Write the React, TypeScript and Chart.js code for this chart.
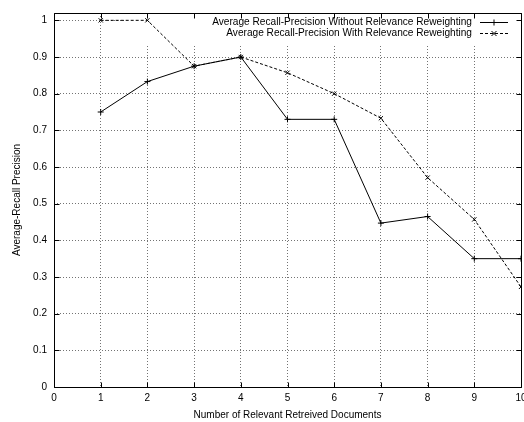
import React, { useEffect, useRef } from "react";
import { Chart, registerables } from "chart.js";

Chart.register(...registerables);

const xValues = [1, 2, 3, 4, 5, 6, 7, 8, 9, 10];
const withoutReweighting = [0.75, 0.833, 0.875, 0.9, 0.73, 0.73, 0.447, 0.465, 0.35, 0.35];
const withReweighting = [1.0, 1.0, 0.875, 0.9, 0.857, 0.8, 0.733, 0.571, 0.457, 0.273];
const xTicks = [0, 1, 2, 3, 4, 5, 6, 7, 8, 9, 10];
const yTicks = [0, 0.1, 0.2, 0.3, 0.4, 0.5, 0.6, 0.7, 0.8, 0.9, 1];
const seriesLabels = [
  "Average Recall-Precision Without Relevance Reweighting",
  "Average Recall-Precision With Relevance Reweighting",
];
const xTitle = "Number of Relevant Retreived Documents";
const yTitle = "Average-Recall Precision";

const FONT = "'Liberation Sans', Arial, Helvetica, sans-serif";

const framePlugin = {
  id: "gnuFrame",
  beforeDatasetsDraw(chart: any) {
    const { ctx, chartArea: a } = chart;
    ctx.save();
    ctx.fillStyle = "#ffffff";
    ctx.fillRect(125, a.top + 1, a.right - 126, 30);
    ctx.restore();
  },
  afterDraw(chart: any) {
    const { ctx, chartArea: a, scales } = chart;
    const xs = scales.x;
    const ys = scales.y;
    ctx.save();
    ctx.strokeStyle = "#000";
    ctx.lineWidth = 1;
    ctx.setLineDash([]);
    const L = Math.round(a.left) + 0.5;
    const R = Math.round(a.right) + 0.5;
    const T = Math.round(a.top) + 0.5;
    const B = Math.round(a.bottom) + 0.5;
    ctx.beginPath();
    ctx.rect(L, T, R - L, B - T);
    ctx.stroke();
    const tl = 5;
    ctx.beginPath();
    xTicks.forEach((v) => {
      const px = Math.round(xs.getPixelForValue(v)) + 0.5;
      ctx.moveTo(px, B);
      ctx.lineTo(px, B - tl);
      ctx.moveTo(px, T);
      ctx.lineTo(px, T + tl);
    });
    yTicks.forEach((v) => {
      const py = Math.round(ys.getPixelForValue(v)) + 0.5;
      ctx.moveTo(L, py);
      ctx.lineTo(L + tl, py);
      ctx.moveTo(R, py);
      ctx.lineTo(R - tl, py);
    });
    ctx.stroke();

    // legend
    ctx.font = `10.15px ${FONT}`;
    ctx.fillStyle = "#000";
    ctx.textAlign = "right";
    ctx.textBaseline = "middle";
    const textRight = 472;
    const rows = [22, 33];
    const x0 = 480, x1 = 508, xm = 494;
    seriesLabels.forEach((lbl, i) => {
      const y = rows[i];
      ctx.fillText(lbl, textRight, y);
      const yy = Math.round(y) + 0.5;
      ctx.beginPath();
      ctx.setLineDash(i === 0 ? [] : [3, 2]);
      ctx.moveTo(x0, yy);
      ctx.lineTo(x1, yy);
      ctx.stroke();
      ctx.setLineDash([]);
      ctx.beginPath();
      if (i === 0) {
        ctx.moveTo(xm, yy - 3);
        ctx.lineTo(xm, yy + 3);
      } else {
        ctx.moveTo(xm - 2.5, yy - 2.5);
        ctx.lineTo(xm + 2.5, yy + 2.5);
        ctx.moveTo(xm - 2.5, yy + 2.5);
        ctx.lineTo(xm + 2.5, yy - 2.5);
      }
      ctx.stroke();
    });
    ctx.restore();
  },
};

export default function App() {
  const ref = useRef<HTMLCanvasElement | null>(null);
  useEffect(() => {
    if (!ref.current) return;
    const gridColor = "rgba(0,0,0,0.55)";
    const chart = new Chart(ref.current, {
      type: "line",
      data: {
        datasets: [
          {
            label: seriesLabels[0],
            data: xValues.map((x, i) => ({ x, y: withoutReweighting[i] })),
            borderColor: "#000",
            backgroundColor: "#000",
            borderWidth: 1,
            pointStyle: "cross",
            pointRadius: 3,
            pointBorderWidth: 1,
            fill: false,
            tension: 0,
          },
          {
            label: seriesLabels[1],
            data: xValues.map((x, i) => ({ x, y: withReweighting[i] })),
            borderColor: "#000",
            backgroundColor: "#000",
            borderWidth: 1,
            borderDash: [3, 2],
            pointStyle: "crossRot",
            pointRadius: 3,
            pointBorderWidth: 1,
            fill: false,
            tension: 0,
          },
        ],
      },
      options: {
        responsive: false,
        animation: false,
        devicePixelRatio: 1,
        layout: { padding: { left: 0, right: 19, top: 11, bottom: 0 } },
        plugins: {
          legend: { display: false },
          tooltip: { enabled: false },
        },
        scales: {
          x: {
            type: "linear",
            min: 0,
            max: 10,
            afterBuildTicks: (s: any) => {
              s.ticks = xTicks.map((v) => ({ value: v }));
            },
            afterFit: (s: any) => {
              s.height = 35;
            },
            ticks: {
              color: "#000",
              font: { family: FONT, size: 10 },
              padding: 5,
              maxRotation: 0,
              autoSkip: false,
              callback: (v: any) => String(v),
            },
            grid: { color: gridColor, lineWidth: 1, drawTicks: false },
            border: { display: false, dash: [1, 2] },
            title: {
              display: true,
              text: xTitle,
              color: "#000",
              font: { family: FONT, size: 10 },
              padding: { top: 0, bottom: 1 },
            },
          },
          y: {
            type: "linear",
            min: 0,
            max: 1.02,
            afterBuildTicks: (s: any) => {
              s.ticks = yTicks.map((v) => ({ value: v }));
            },
            afterFit: (s: any) => {
              s.width = 54;
            },
            ticks: {
              color: "#000",
              font: { family: FONT, size: 10 },
              padding: 7,
              autoSkip: false,
              callback: (v: any) => String(Number(Number(v).toFixed(1))),
            },
            grid: { color: gridColor, lineWidth: 1, drawTicks: false },
            border: { display: false, dash: [1, 2] },
            title: {
              display: true,
              text: yTitle,
              color: "#000",
              font: { family: FONT, size: 10 },
              padding: { top: 11, bottom: 0 },
            },
          },
        },
      },
      plugins: [framePlugin],
    });
    return () => chart.destroy();
  }, []);
  return (
    <div
      style={{
        position: "fixed",
        left: 0,
        top: 0,
        width: 524,
        height: 422,
        overflow: "hidden",
        background: "#fff",
      }}
    >
      <canvas ref={ref} width={540} height={422} style={{ display: "block", width: 540, height: 422 }} />
    </div>
  );
}
